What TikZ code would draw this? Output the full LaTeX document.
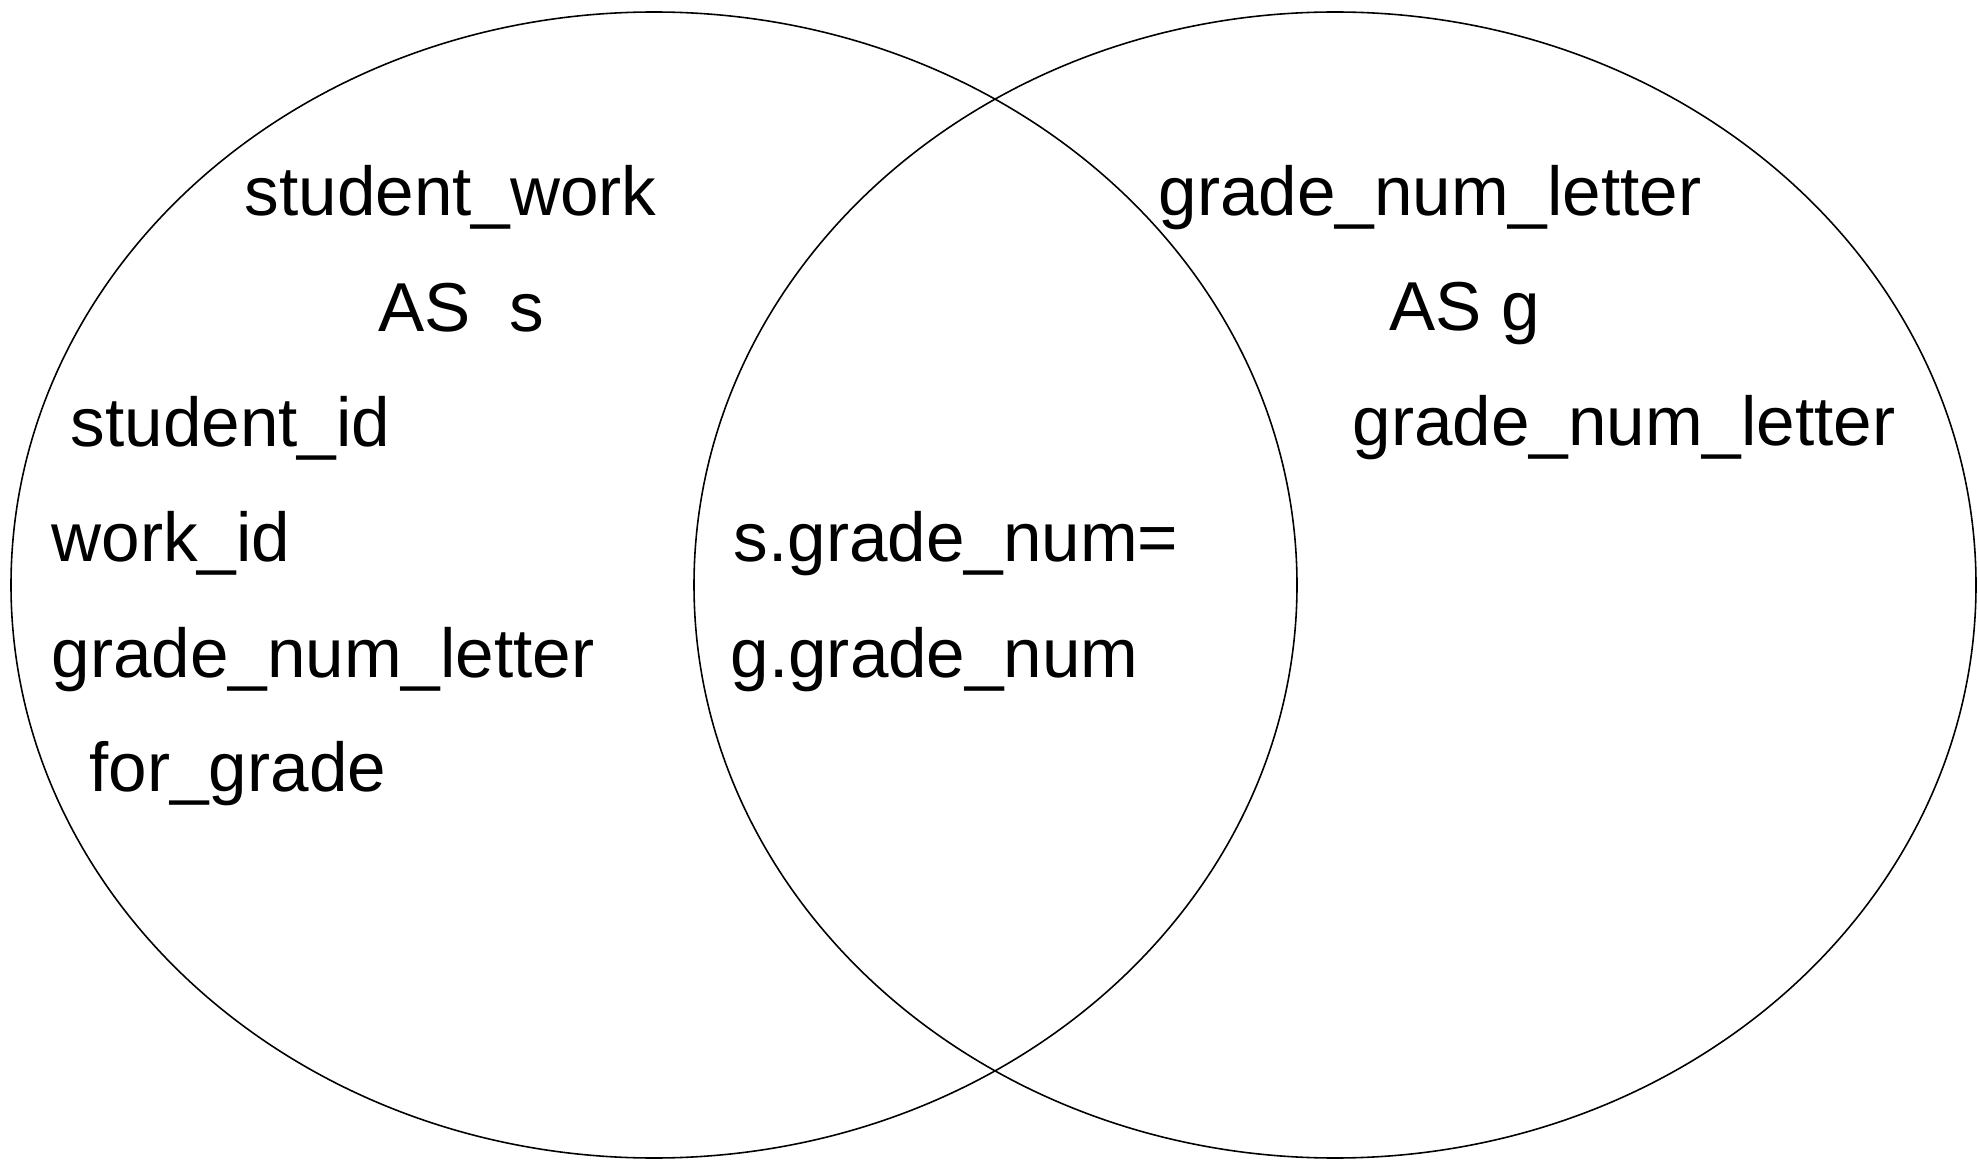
\documentclass[tikz,border=0pt]{standalone}
\usepackage{fontspec}
\setmainfont{Liberation Sans}
\tikzset{
  field/.style = {anchor=base west, inner sep=0pt, font=\fontsize{19.7}{24}\selectfont},
  set/.style = {line width=0.45pt}
}

\begin{document}
\begin{tikzpicture}[x=0.1mm,y=-0.1mm]
    \useasboundingbox (0,0) rectangle (1978,1160);
    % the two tables
    \draw[set] (654,585) ellipse [x radius=643, y radius=573];
    \draw[set] (1335,585) ellipse [x radius=641, y radius=573];
    % left table
    \node[field] (work) at (244,216) {student\_work};
    \node[field] (aliass) at (378,332) {AS\ \ s};
    \node[field] (sid) at (70,447) {student\_id};
    \node[field] (wid) at (51,562) {work\_id};
    \node[field] (sgnl) at (51,677) {grade\_num\_letter};
    \node[field] (fgrade) at (89,791) {for\_grade};
    % join condition
    \node[field] (joins) at (733,562) {s.grade\_num=};
    \node[field] (joing) at (730,677) {g.grade\_num};
    % right table
    \node[field] (letter) at (1158,216) {grade\_num\_letter};
    \node[field] (aliasg) at (1389,331) {AS g};
    \node[field] (ggnl) at (1352,446) {grade\_num\_letter};
\end{tikzpicture}
\end{document}
